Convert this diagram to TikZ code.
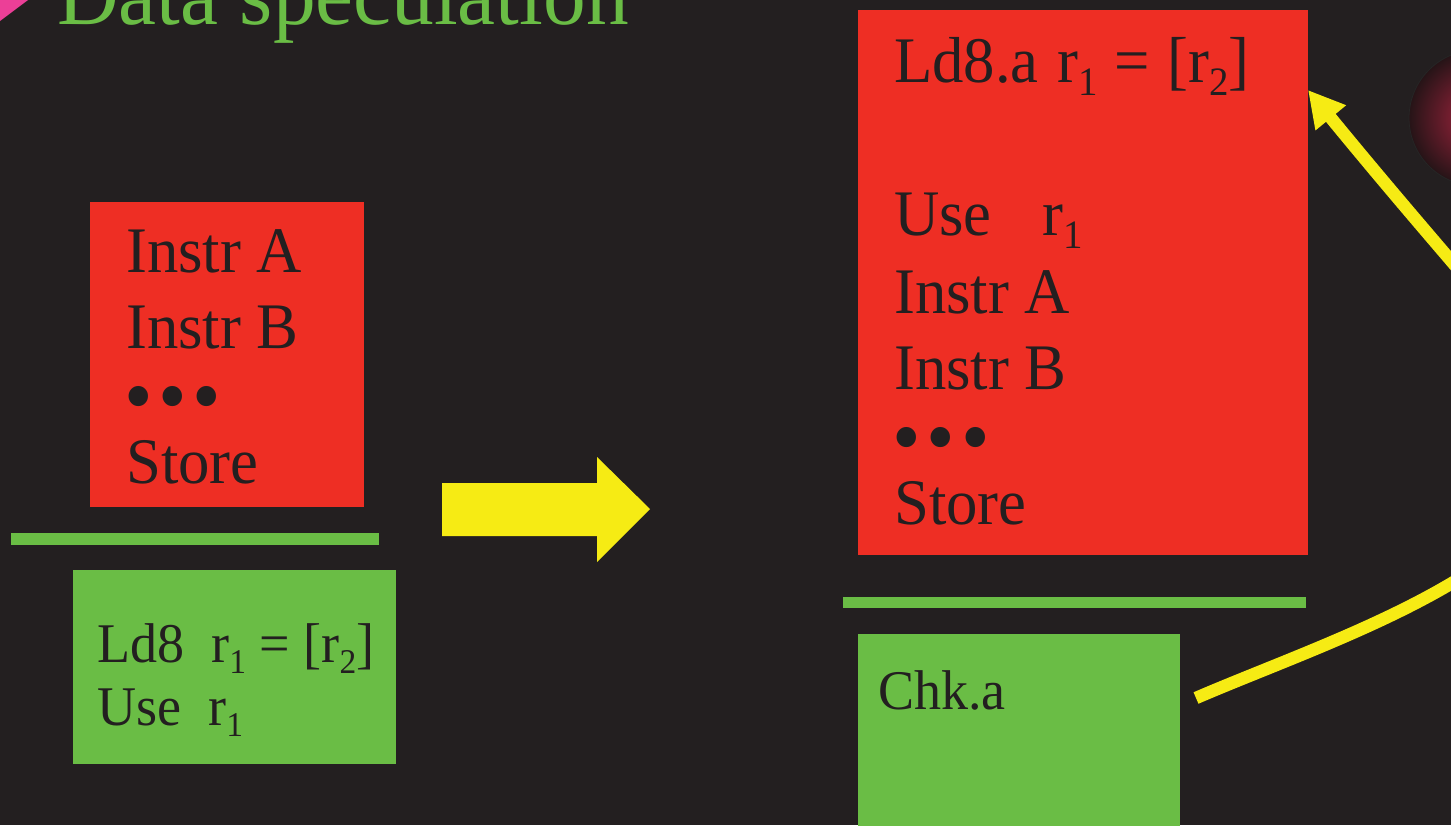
\documentclass[tikz,border=0pt]{standalone}
\usepackage{fontspec}
\setmainfont{Liberation Serif}[FakeStretch=0.965]
\usepackage{graphicx}
\usetikzlibrary{arrows.meta,calc}

\definecolor{bg}{HTML}{231F20}
\definecolor{slidered}{HTML}{EE2E24}
\definecolor{slidegreen}{HTML}{6ABD45}
\definecolor{slideyellow}{HTML}{F6EB14}
\definecolor{slidepink}{HTML}{EC3F97}
\definecolor{ink}{HTML}{231F20}
\definecolor{orbin}{HTML}{A8243F}
\definecolor{orbout}{HTML}{261417}

% lowered, reduced subscript
\newcommand\sbs[1]{\raisebox{-0.21em}{\scalebox{0.62}{#1}}}
\newcommand\bigfont{\fontsize{65}{70}\selectfont}
\newcommand\midfont{\fontsize{56}{62}\selectfont}
\newcommand\bigbullet{\raisebox{-0.1em}{\scalebox{1.3}{•}}}
\newcommand\bulletrow{\smash{\bigbullet\kern0.09em\bigbullet\kern0.09em\bigbullet}}

\begin{document}
\begin{tikzpicture}[x=1pt,y=-1pt,
  block/.style={anchor=north west, inner sep=0pt, outer sep=0pt, draw=none},
  redblock/.style={block, fill=slidered},
  greenblock/.style={block, fill=slidegreen},
  codeline/.style={anchor=base west, inner sep=0pt, text=ink, font=\bigfont},
  smallcode/.style={codeline, font=\midfont},
  link/.style={draw=slideyellow, line width=12.5pt, -{Triangle[length=36pt,width=37pt]}}]

\useasboundingbox (0,0) rectangle (1451,825);
\clip (0,0) rectangle (1451,825);
\fill[bg] (0,0) rectangle (1451,825);

% bullet corner and heading
\fill[slidepink] (0,0) -- (28,0) -- (0,21) -- cycle;
\node[anchor=base west, inner sep=0pt, text=slidegreen,
      font=\fontsize{88.5}{95}\selectfont] (title) at (57,24) {Data speculation};

% original code: block above the store, load below it
\node[redblock, minimum width=274pt, minimum height=305pt] (lred) at (90,202) {};
\node[codeline] (la) at (126,272) {Instr A};
\node[codeline] (lb) at (126,348) {Instr B};
\node[codeline] (ldots) at (124,418) {\bulletrow};
\node[codeline] (lst) at (126,483) {Store};

\node[greenblock, minimum width=368pt, minimum height=12pt] (lbar) at (11,533) {};

\node[greenblock, minimum width=323pt, minimum height=194pt] (lgreen) at (73,570) {};
\node[smallcode] (lld) at (97,662) {Ld8\ \ r\sbs{1} = [r\sbs{2}]};
\node[smallcode] (luse) at (97,725) {Use\ \ r\sbs{1}};

% transformation arrow
\fill[slideyellow] (442,483) -- (597,483) -- (597,457) -- (650,509)
  -- (597,562) -- (597,536) -- (442,536) -- cycle;

% speculative code: advanced load hoisted above the store
\node[redblock, minimum width=450pt, minimum height=545pt] (rred) at (858,10) {};
\node[codeline] (rld) at (894,82) {Ld8.a\ \kern3pt r\sbs{1}\kern1pt{} = \kern2pt[r\sbs{2}]};
\node[codeline] (ruse) at (894,235) {Use\ \ \ \kern4pt r\sbs{1}};
\node[codeline] (ra) at (894,313) {Instr A};
\node[codeline] (rb) at (894,389) {Instr B};
\node[codeline] (rdots) at (892,459) {\bulletrow};
\node[codeline] (rst) at (894,524) {Store};

\node[greenblock, minimum width=463pt, minimum height=11pt] (rbar) at (843,597) {};

\node[greenblock, minimum width=322pt, minimum height=200pt] (rgreen) at (858,634) {};
\node[smallcode] (chk) at (878,709) {Chk.a};

% shaded orb at the right edge
\shade[inner color=orbin, outer color=orbout, draw=black!85, line width=0.8pt]
  (1477,118) circle (68);

% recovery link from the check back to the advanced load
\coordinate (src) at ($(rgreen.north east)+(16,64)$);
\coordinate (tgt) at ($(rred.north east)+(0,80)$);
\draw[link] (src) .. controls +(139,-60) and (1572,565) .. (1572,430)
  .. controls (1572,390) and (1480,300) .. (tgt);
\end{tikzpicture}
\end{document}
